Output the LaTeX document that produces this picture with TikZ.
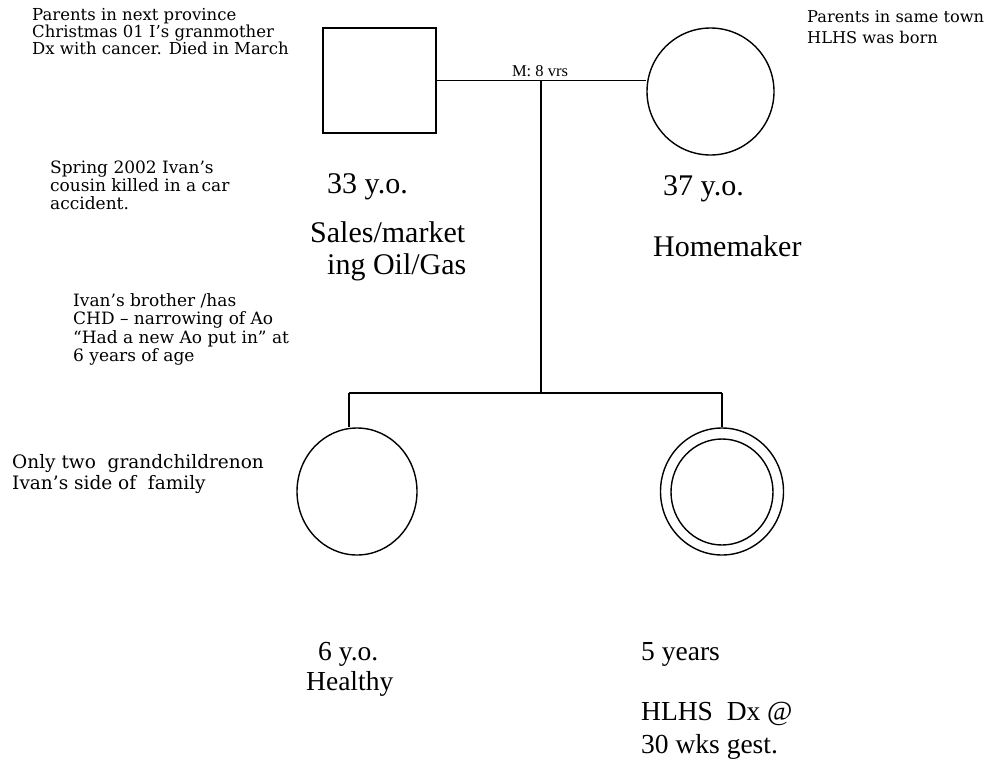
\documentclass[tikz,border=0pt]{standalone}
\usepackage{fontspec}
\setmainfont{Liberation Serif}
\newfontfamily\notefam{DejaVu Serif}
\usetikzlibrary{shapes.geometric}
\newcommand\notefont{\notefam\fontsize{16.5}{17}\selectfont}
\newcommand\notebig{\notefam\fontsize{17}{19}\selectfont}
\newcommand\notehuge{\notefam\fontsize{18.5}{20}\selectfont}
\newcommand\bigfont{\fontsize{30}{34}\selectfont}
\newcommand\kidfont{\fontsize{27.5}{31}\selectfont}
\newcommand\mfont{\fontsize{16.5}{18}\selectfont}
\tikzset{
  note/.style={font=\notefont, anchor=base west, inner sep=0pt},
  big/.style={font=\bigfont, anchor=base west, inner sep=0pt},
  kid/.style={font=\kidfont, anchor=base west, inner sep=0pt},
  person/.style={draw, line width=1.4pt, inner sep=0pt},
  link/.style={line width=1.4pt}
}
\begin{document}
\begin{tikzpicture}[x=1pt,y=-1pt]
\useasboundingbox (0,0) rectangle (990,779);
% parents
\node[person, minimum width=113pt, minimum height=105pt] (father) at (379.5,80.5) {};
\node[person, circle, minimum size=127pt] (mother) at (710.5,91.5) {};
\coordinate (mid) at (541,80.5);
\coordinate (sib) at (541,393);
\coordinate (sibL) at (349,393);
\coordinate (sibR) at (722,393);
% children
\node[person, ellipse, minimum width=120pt, minimum height=127pt] (child1) at (357,491.5) {};
\node[person, ellipse, minimum width=123pt, minimum height=127pt] (child2) at (722,491.5) {};
\node[person, ellipse, minimum width=102pt, minimum height=106pt] (child2in) at (722,492) {};
% connectors
\draw[link] (father.east) -- (father.east -| mother.west);
\draw[link] (mid) -- (sib);
\draw[link] (sibL) -- (sibR);
\draw[link] (sibL) -- (sibL |- child1.north);
\draw[link] (sibR) -- (child2.north);
% marriage label
\node[font=\mfont, anchor=base, inner sep=0pt] (mlabel) at (540,76) {M: 8 vrs};
% notes
\node[note] (tl1) at (32,20) {Parents in next province};
\node[note] (tl2) at (32,37) {Christmas 01 I’s granmother};
\node[note] (tl3) at (32,54) {Dx with cancer. Died in March};
\node[note, font=\notefam\fontsize{16.2}{17}\selectfont] (tr1) at (807,23) {Parents in same town};
\node[note, font=\notefam\fontsize{16.2}{17}\selectfont] (tr2) at (807,43) {HLHS was born};
\node[note, font=\notebig] (sp1) at (50,173) {Spring 2002 Ivan’s};
\node[note, font=\notebig] (sp2) at (50,191) {cousin killed in a car};
\node[note, font=\notebig] (sp3) at (50,209) {accident.};
\node[note, font=\notebig] (ib1) at (73,306) {Ivan’s brother /has};
\node[note, font=\notebig] (ib2) at (73,324) {CHD – narrowing of Ao};
\node[note, font=\notebig] (ib3) at (73,343) {“Had a new Ao put in” at};
\node[note, font=\notebig] (ib4) at (73,361) {6 years of age};
\node[note, font=\notehuge] (og1) at (12,468) {Only two\ \ grandchildrenon};
\node[note, font=\notehuge] (og2) at (12,489) {Ivan’s side of\ \ family};
% big labels
\node[big] (fage) at (327,193) {33 y.o.};
\node[big] (fjob1) at (310,242) {Sales/market};
\node[big] (fjob2) at (327,274) {ing Oil/Gas};
\node[big] (mage) at (663,195) {37 y.o.};
\node[big] (mjob) at (653,256) {Homemaker};
\node[kid] (c1age) at (318,660) {6 y.o.};
\node[kid] (c1st) at (306,690) {Healthy};
\node[kid] (c2age) at (641,660) {5 years};
\node[kid] (c2dx1) at (641,720) {HLHS\ \ Dx @};
\node[kid] (c2dx2) at (641,753) {30 wks gest.};
\end{tikzpicture}
\end{document}
